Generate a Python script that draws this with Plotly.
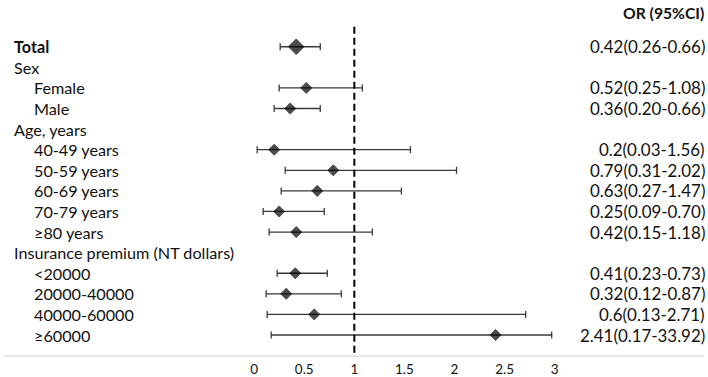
import plotly.graph_objects as go

# ---- data ----
labels = ["Total", "Sex", "Female", "Male", "Age, years", "40-49 years", "50-59 years",
          "60-69 years", "70-79 years", "≥80 years", "Insurance premium (NT dollars)",
          "<20000", "20000-40000", "40000-60000", "≥60000"]
indent = [0, 0, 1, 1, 0, 1, 1, 1, 1, 1, 0, 1, 1, 1, 1]
bold = [True] + [False] * 14
or_vals = [0.42, None, 0.52, 0.36, None, 0.2, 0.79, 0.63, 0.25, 0.42, None, 0.41, 0.32, 0.6, 2.41]
lower = [0.26, None, 0.25, 0.20, None, 0.03, 0.31, 0.27, 0.09, 0.15, None, 0.23, 0.12, 0.13, 0.17]
upper = [0.66, None, 1.08, 0.66, None, 1.56, 2.02, 1.47, 0.70, 1.18, None, 0.73, 0.87, 2.71, 33.92]
or_text = ["0.42(0.26-0.66)", "", "0.52(0.25-1.08)", "0.36(0.20-0.66)", "", "0.2(0.03-1.56)",
           "0.79(0.31-2.02)", "0.63(0.27-1.47)", "0.25(0.09-0.70)", "0.42(0.15-1.18)", "",
           "0.41(0.23-0.73)", "0.32(0.12-0.87)", "0.6(0.13-2.71)", "2.41(0.17-33.92)"]
x_ticks = [0, 0.5, 1, 1.5, 2, 2.5, 3]
x_tick_labels = ["0", "0.5", "1", "1.5", "2", "2.5", "3"]
header = "OR (95%CI)"

# ---- layout constants (reference pixel coords) ----
W, H = 708, 377
FONT = "Lato"
FS = 16.2
FS_R = 16.9
TXT = "#111111"
X_MAX_DRAW = 2.97


def fx(px):  # reference x pixel -> paper fraction
    return px / W


def fy(px):  # reference y pixel -> paper fraction
    return 1 - px / H


row_px0, row_dy = 47, 20.7
axis_px = 358
rows = list(range(1, len(labels) + 1))
y_top = 1 - row_px0 / row_dy
y_bot = 1 + (H - row_px0) / row_dy


def py(px):  # reference y pixel -> row data coordinate
    return 1 + (px - row_px0) / row_dy


xs, ys, ep, em, sizes = [], [], [], [], []
for r, v, lo, hi in zip(rows, or_vals, lower, upper):
    if v is None:
        continue
    xs.append(v)
    ys.append(r)
    ep.append(min(hi, X_MAX_DRAW) - v)
    em.append(v - lo)
    sizes.append(12 if r == 1 else 8.5)

fig = go.Figure()
fig.add_trace(go.Scatter(
    x=xs, y=ys, mode="markers",
    marker=dict(symbol="diamond", color="rgba(0,0,0,0)", size=1),
    error_x=dict(type="data", symmetric=False, array=ep, arrayminus=em,
                 color="#3a3a3a", thickness=1.3, width=3.5),
    showlegend=False, hoverinfo="skip",
))
fig.add_trace(go.Scatter(
    x=xs, y=ys, mode="markers",
    marker=dict(symbol="diamond", color="black", size=sizes, line=dict(width=1, color="black")),
    showlegend=False, hoverinfo="skip",
))

annotations = []
for r, lab, ind, b, t in zip(rows, labels, indent, bold, or_text):
    disp = lab.replace("<", "&lt;")
    if b:
        disp = "<b>" + disp + "</b>"
    annotations.append(dict(x=fx(8 + 20 * ind), xref="paper", y=r, yref="y",
                            text=disp, showarrow=False, xanchor="left", yanchor="middle",
                            font=dict(family=FONT, size=FS, color=TXT)))
    if t:
        annotations.append(dict(x=fx(711), xref="paper", y=r, yref="y",
                                text=t, showarrow=False, xanchor="right", yanchor="middle",
                                font=dict(family=FONT, size=FS_R, color=TXT)))
annotations.append(dict(x=fx(710), xref="paper", y=fy(13), yref="paper",
                        text="<b>" + header + "</b>", showarrow=False,
                        xanchor="right", yanchor="middle",
                        font=dict(family=FONT, size=FS - 0.5, color=TXT)))

shapes = [
    dict(type="line", xref="x", yref="y", x0=1, x1=1, y0=py(27), y1=py(axis_px),
         line=dict(color="black", width=2, dash="7px,4px")),
    dict(type="line", xref="paper", yref="paper", x0=0, x1=1,
         y0=fy(axis_px), y1=fy(axis_px), line=dict(color="#d9d9d9", width=1.3)),
]

fig.update_layout(
    width=W, height=H, margin=dict(l=0, r=0, t=0, b=0),
    paper_bgcolor="white", plot_bgcolor="white",
    annotations=annotations, shapes=shapes,
    xaxis=dict(domain=[fx(253), fx(557)], range=[0, 3], tickvals=x_ticks,
               ticktext=x_tick_labels, showgrid=False, zeroline=False, showline=False,
               anchor="free", position=fy(axis_px), ticks="", ticklen=0,
               ticklabelstandoff=3,
               tickfont=dict(family=FONT, size=13.5, color=TXT)),
    yaxis=dict(domain=[0, 1], range=[y_bot, y_top], visible=False),
)

fig.write_html(
    "out.html",
    config={"displayModeBar": False},
    post_script="document.body.style.margin='0';document.body.style.overflow='hidden';",
)
